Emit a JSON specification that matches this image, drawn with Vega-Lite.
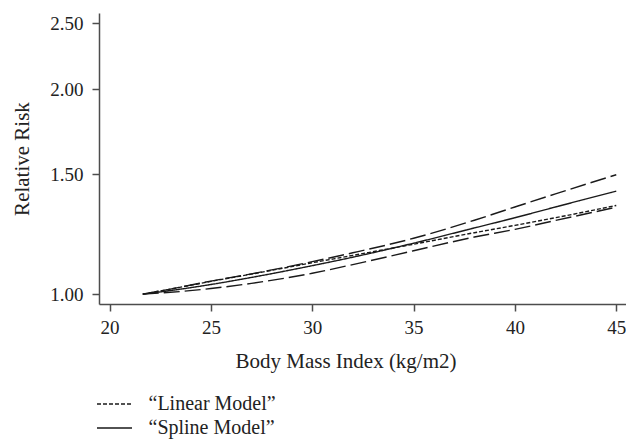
{
  "$schema": "https://vega.github.io/schema/vega-lite/v6.json",
  "autosize": {"type": "none"},
  "padding": {"left": 99, "top": 13, "right": 0, "bottom": 136},
  "width": 527,
  "height": 291,
  "background": "white",
  "config": {
    "view": {"stroke": null},
    "font": "Liberation Serif",
    "axis": {
      "labelFont": "Liberation Serif",
      "titleFont": "Liberation Serif",
      "labelFontSize": 19,
      "titleFontSize": 21,
      "titleFontWeight": "normal",
      "labelColor": "#222",
      "titleColor": "#222",
      "domainColor": "#4d4d4d",
      "domainWidth": 1.5,
      "tickColor": "#4d4d4d",
      "tickWidth": 1.5,
      "tickSize": 7,
      "grid": false
    },
    "legend": {
      "labelFont": "Liberation Serif",
      "labelFontSize": 20,
      "labelColor": "#222"
    }
  },
  "datasets": {
    "models": [
      {"model": "“Linear Model”", "bmi": 21.64, "rr": 1.0},
      {"model": "“Linear Model”", "bmi": 23, "rr": 1.017},
      {"model": "“Linear Model”", "bmi": 25, "rr": 1.044},
      {"model": "“Linear Model”", "bmi": 27, "rr": 1.07},
      {"model": "“Linear Model”", "bmi": 30, "rr": 1.112},
      {"model": "“Linear Model”", "bmi": 32, "rr": 1.14},
      {"model": "“Linear Model”", "bmi": 35, "rr": 1.184},
      {"model": "“Linear Model”", "bmi": 38, "rr": 1.231},
      {"model": "“Linear Model”", "bmi": 40, "rr": 1.262},
      {"model": "“Linear Model”", "bmi": 42, "rr": 1.295},
      {"model": "“Linear Model”", "bmi": 45, "rr": 1.35},
      {"model": "“Spline Model”", "bmi": 21.64, "rr": 1.0},
      {"model": "“Spline Model”", "bmi": 23, "rr": 1.012},
      {"model": "“Spline Model”", "bmi": 25, "rr": 1.033},
      {"model": "“Spline Model”", "bmi": 27, "rr": 1.058},
      {"model": "“Spline Model”", "bmi": 30, "rr": 1.101},
      {"model": "“Spline Model”", "bmi": 32, "rr": 1.133},
      {"model": "“Spline Model”", "bmi": 35, "rr": 1.188},
      {"model": "“Spline Model”", "bmi": 38, "rr": 1.251},
      {"model": "“Spline Model”", "bmi": 40, "rr": 1.295},
      {"model": "“Spline Model”", "bmi": 42, "rr": 1.343},
      {"model": "“Spline Model”", "bmi": 45, "rr": 1.417}
    ],
    "ci": [
      {"bound": "upper", "bmi": 21.64, "rr": 1.0},
      {"bound": "upper", "bmi": 23, "rr": 1.017},
      {"bound": "upper", "bmi": 25, "rr": 1.045},
      {"bound": "upper", "bmi": 27, "rr": 1.071},
      {"bound": "upper", "bmi": 30, "rr": 1.116},
      {"bound": "upper", "bmi": 32, "rr": 1.15},
      {"bound": "upper", "bmi": 35, "rr": 1.208},
      {"bound": "upper", "bmi": 38, "rr": 1.284},
      {"bound": "upper", "bmi": 40, "rr": 1.343},
      {"bound": "upper", "bmi": 42, "rr": 1.404},
      {"bound": "upper", "bmi": 45, "rr": 1.498},
      {"bound": "lower", "bmi": 21.64, "rr": 1.0},
      {"bound": "lower", "bmi": 23, "rr": 1.006},
      {"bound": "lower", "bmi": 25, "rr": 1.019},
      {"bound": "lower", "bmi": 27, "rr": 1.037},
      {"bound": "lower", "bmi": 30, "rr": 1.073},
      {"bound": "lower", "bmi": 32, "rr": 1.105},
      {"bound": "lower", "bmi": 35, "rr": 1.158},
      {"bound": "lower", "bmi": 38, "rr": 1.213},
      {"bound": "lower", "bmi": 40, "rr": 1.245},
      {"bound": "lower", "bmi": 42, "rr": 1.283},
      {"bound": "lower", "bmi": 45, "rr": 1.342}
    ]
  },
  "layer": [
    {
      "data": {"name": "ci"},
      "mark": {"type": "line", "interpolate": "monotone", "strokeDash": [16, 5], "strokeWidth": 1.4, "color": "#1a1a1a"},
      "encoding": {
        "x": {
          "field": "bmi", "type": "quantitative",
          "scale": {"domain": [19.48, 45.48], "nice": false, "zero": false},
          "axis": {
            "title": "Body Mass Index (kg/m2)",
            "values": [20, 25, 30, 35, 40, 45],
            "labelPadding": 7,
            "titleX": 246.5,
            "titleY": 63,
            "titleBaseline": "alphabetic"
          }
        },
        "y": {
          "field": "rr", "type": "quantitative",
          "scale": {"type": "log", "domain": [0.967, 2.59], "nice": false, "zero": false},
          "axis": {
            "title": "Relative Risk",
            "values": [1, 1.5, 2, 2.5],
            "format": ".2f",
            "labelPadding": 9,
            "titleX": -70.5,
            "titleY": 145.5,
            "titleBaseline": "alphabetic"
          }
        },
        "detail": {"field": "bound"}
      }
    },
    {
      "data": {"name": "models"},
      "mark": {"type": "line", "interpolate": "monotone", "strokeWidth": 1.4, "color": "#1a1a1a"},
      "encoding": {
        "x": {"field": "bmi", "type": "quantitative"},
        "y": {"field": "rr", "type": "quantitative"},
        "strokeDash": {
          "field": "model", "type": "nominal",
          "scale": {"domain": ["“Linear Model”", "“Spline Model”"], "range": [[4, 2], [1, 0]]},
          "legend": {
            "title": null,
            "orient": "none",
            "legendX": 5.5,
            "legendY": 381,
            "padding": 0,
            "symbolType": "M-2.5,0H2.5",
            "symbolSize": 196,
            "symbolStrokeWidth": 1.4,
            "symbolStrokeColor": "#1a1a1a",
            "labelOffset": 24,
            "rowPadding": 4
          }
        }
      }
    }
  ]
}
